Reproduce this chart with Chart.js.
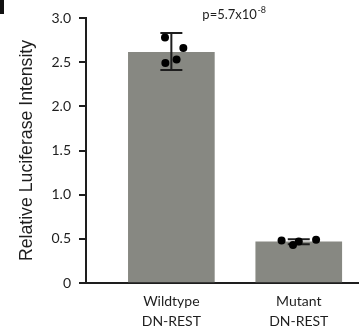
<!DOCTYPE html>
<html>
<head>
<meta charset="utf-8">
<script src="https://cdn.jsdelivr.net/npm/chart.js@4/dist/chart.umd.min.js"></script>
<style>
  body { margin: 0; background: #fff; }
  #wrap { width: 362px; height: 328px; }
</style>
</head>
<body>
<div id="wrap"><canvas id="luc-chart" width="362" height="328"></canvas></div>
<script>
// groups on the x axis (two-line labels)
const groupLabels = [['Wildtype', 'DN-REST'], ['Mutant', 'DN-REST']];
const groupPos = [1, 2];
// bar heights (mean) and error bar ends
const means = [2.61, 0.466];
const errLow = [2.41, 0.44];
const errHigh = [2.83, 0.495];
// individual replicates, with their horizontal jitter
const wtPoints = [2.78, 2.66, 2.53, 2.49];
const wtJitter = [-0.05, 0.094, 0.041, -0.047];
const mutPoints = [0.48, 0.43, 0.47, 0.49];
const mutJitter = [-0.135, -0.045, 0.0, 0.136];
// y tick values
const yTicks = [0, 0.5, 1.0, 1.5, 2.0, 2.5, 3.0];
const pText = 'p=5.7x10';
const pExp = '-8';

const ink = '#1e1e1e';
const barGray = '#878882';

// error bars are drawn right after the bars, so the dots land on top
const errorBarPlugin = {
    id: 'errorBars',
    afterDatasetDraw(chart, args) {
        if (args.index !== 0) return;
        const ctx = chart.ctx;
        const x = chart.scales.x, y = chart.scales.y;
        ctx.save();
        ctx.strokeStyle = ink;
        ctx.lineWidth = 2;
        groupPos.forEach((g, i) => {
            const px = x.getPixelForValue(g);
            const top = y.getPixelForValue(errHigh[i]);
            const bot = y.getPixelForValue(errLow[i]);
            ctx.beginPath();
            ctx.moveTo(px, top); ctx.lineTo(px, bot);
            ctx.moveTo(px - 11, top); ctx.lineTo(px + 11, top);
            ctx.moveTo(px - 11, bot); ctx.lineTo(px + 11, bot);
            ctx.stroke();
        });
        ctx.restore();
    },
    afterDraw(chart) {
        const ctx = chart.ctx;
        const x = chart.scales.x;
        ctx.save();
        // p value over the wildtype bar
        ctx.fillStyle = ink;
        ctx.textBaseline = 'alphabetic';
        ctx.font = '13px Lato';
        const px = x.getPixelForValue(groupPos[0]) + 31;
        ctx.fillText(pText, px, 19);
        const w = ctx.measureText(pText).width;
        ctx.font = '9px Lato';
        ctx.fillText(pExp, px + w + 0.5, 13);
        // cut-off panel letter in the corner
        ctx.fillStyle = '#111';
        ctx.fillRect(0, 0, 4, 14);
        ctx.restore();
    }
};

const canvas = document.querySelector('#luc-chart');
new Chart(canvas.getContext('2d'), {
    type: 'bar',
    data: {
        datasets: [
            {
                type: 'bar',
                data: groupPos.map((g, i) => ({ x: g, y: means[i] })),
                backgroundColor: barGray,
                borderWidth: 0,
                barThickness: 86,
                order: 2
            },
            {
                type: 'scatter',
                data: wtPoints.map((v, i) => ({ x: groupPos[0] + wtJitter[i], y: v })),
                backgroundColor: '#000',
                borderWidth: 0,
                pointRadius: 4,
                order: 1
            },
            {
                type: 'scatter',
                data: mutPoints.map((v, i) => ({ x: groupPos[1] + mutJitter[i], y: v })),
                backgroundColor: '#000',
                borderWidth: 0,
                pointRadius: 4,
                order: 1
            }
        ]
    },
    options: {
        responsive: false,
        animation: false,
        layout: { padding: { top: 18, right: -4, left: 0, bottom: 0 } },
        plugins: { legend: { display: false }, tooltip: { enabled: false } },
        scales: {
            x: {
                type: 'linear',
                min: 0.33,
                max: 2.465,
                offset: false,
                afterBuildTicks: scale => { scale.ticks = groupPos.map(v => ({ value: v })); },
                afterFit: scale => { scale.height = 45; },
                grid: { display: false, drawTicks: false, offset: false },
                border: { display: true, color: ink, width: 2 },
                ticks: {
                    padding: 9,
                    color: ink,
                    font: { family: 'Lato', size: 14, lineHeight: 1.4 },
                    maxRotation: 0,
                    callback: (v, i) => groupLabels[i]
                }
            },
            y: {
                min: 0,
                max: 3,
                afterBuildTicks: scale => { scale.ticks = yTicks.map(v => ({ value: v })); },
                afterFit: scale => { scale.width = 86; },
                grid: { drawOnChartArea: false, drawTicks: true, tickLength: 7, color: ink, lineWidth: 2 },
                border: { display: true, color: ink, width: 2 },
                ticks: {
                    padding: 8,
                    color: ink,
                    font: { family: 'Lato', size: 14 },
                    callback: v => v === 0 ? '0' : v.toFixed(1)
                },
                title: {
                    display: true,
                    text: 'Relative Luciferase Intensity',
                    color: ink,
                    font: { family: 'Liberation Sans', size: 17.7 },
                    padding: { top: 16, bottom: 0 }
                }
            }
        }
    },
    plugins: [errorBarPlugin]
});
</script>
</body>
</html>
